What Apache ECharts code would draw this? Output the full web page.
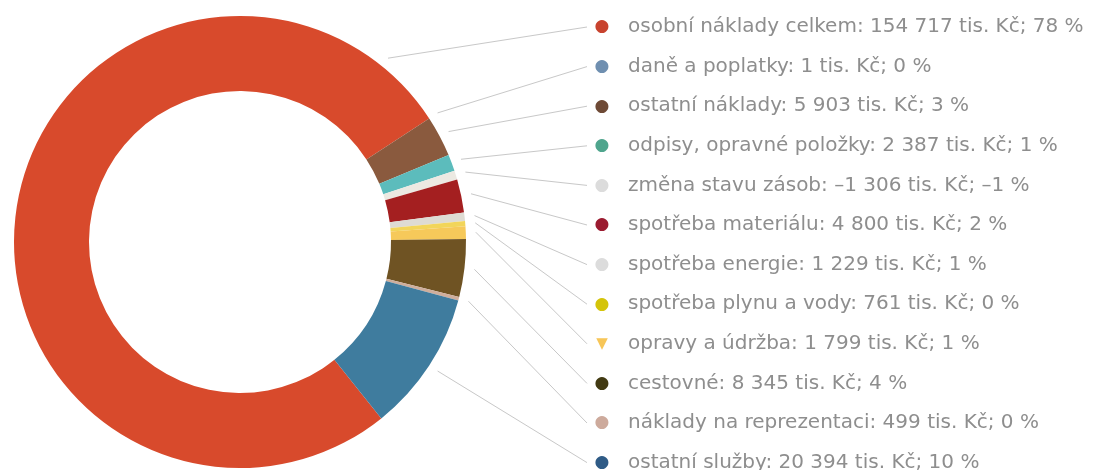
<!DOCTYPE html>
<html><head><meta charset="utf-8">
<script src="https://cdn.jsdelivr.net/npm/echarts@6/dist/echarts.min.js"></script>
<style>html,body{margin:0;padding:0;background:#fff}#c{width:1101px;height:470px}</style>
</head><body><div id="c"></div>
<script>
const categories = [
  'osobní náklady celkem', 'daně a poplatky', 'ostatní náklady', 'odpisy, opravné položky',
  'změna stavu zásob', 'spotřeba materiálu', 'spotřeba energie', 'spotřeba plynu a vody',
  'opravy a údržba', 'cestovné', 'náklady na reprezentaci', 'ostatní služby'
];
const values = [154717, 1, 5903, 2387, -1306, 4800, 1229, 761, 1799, 8345, 499, 20394];
const percents = [78, 0, 3, 1, -1, 2, 1, 0, 1, 4, 0, 10];
const sliceColors = ['#d84a2c', '#7fa3bb', '#8a5a3e', '#5cbcbc', '#ece9e2', '#a41f20',
  '#dedbd3', '#f2d55a', '#f6c95a', '#6f5323', '#cfae9c', '#3f7c9e'];
const markerColors = ['#c8432e', '#6f8fb0', '#6e4a36', '#4fa58d', '#dcdcdc', '#9b1b30',
  '#dcdcdc', '#d4c40a', '#f7c658', '#423a12', '#cdaa9c', '#2f5b86'];
const markerSymbols = ['●', '●', '●', '●', '●', '●', '●', '●', '▼', '●', '●', '●'];

// layout constants
const CX = 240, CY = 242, R_IN = 151, R_OUT = 226;
const START_ANGLE = 308.7;
const ROW0 = 27, ROWH = 39.6, LABEL_X = 592, LINE_END_X = 587;
const FONT = "'DejaVu Sans', sans-serif";

const absVals = values.map(Math.abs);
const total = absVals.reduce((a, b) => a + b, 0);
const startCW = ((90 - START_ANGLE) % 360 + 360) % 360;
let acc = 0;
const anchors = absVals.map(v => {
  const a0 = startCW + acc / total * 360;
  acc += v;
  const a1 = startCW + acc / total * 360;
  const mid = (a0 + a1) / 2;
  const m = ((mid % 360) + 360) % 360;
  const a = (m > 180) ? a1 - 18 : mid;
  const rad = a * Math.PI / 180;
  const r = R_OUT + 10;
  return [CX + r * Math.sin(rad), CY - r * Math.cos(rad)];
});

function fmt(v) {
  const s = String(Math.abs(v)).replace(/\B(?=(\d{3})+(?!\d))/g, ' ');
  return (v < 0 ? '–' : '') + s;
}

const rich = { t: { fontFamily: FONT, fontSize: 20, color: '#8e8e8e', padding: [0, 0, 0, 16] } };
markerColors.forEach((c, i) => {
  rich['m' + i] = { width: 20, align: 'center', fontSize: markerSymbols[i] === '▼' ? 15 : 17, color: c, fontFamily: FONT };
});

const data = categories.map((n, i) => ({ name: n, value: absVals[i], itemStyle: { color: sliceColors[i] } }));

const chart = echarts.init(document.getElementById('c'), null, { renderer: 'canvas' });
chart.setOption({
  animation: false,
  backgroundColor: '#fff',
  series: [{
    type: 'pie',
    center: [CX, CY],
    radius: [R_IN, R_OUT],
    startAngle: START_ANGLE,
    clockwise: true,
    avoidLabelOverlap: false,
    minAngle: 0,
    itemStyle: { borderWidth: 0 },
    emphasis: { disabled: true },
    label: {
      show: true,
      position: 'outside',
      fontFamily: FONT,
      fontSize: 20,
      formatter: p => {
        const i = p.dataIndex;
        return '{m' + i + '|' + markerSymbols[i] + '}{t|' + categories[i] + ': ' + fmt(values[i]) + ' tis. Kč; ' + fmt(percents[i]) + ' %}';
      },
      rich: rich
    },
    labelLine: { show: true, lineStyle: { color: '#c8c8c8', width: 1 } },
    labelLayout: p => {
      const i = p.dataIndex;
      const y = ROW0 + i * ROWH;
      return { x: LABEL_X, y: y, align: 'left', verticalAlign: 'middle', labelLinePoints: [anchors[i], [LINE_END_X, y]] };
    },
    data: data
  }]
});
</script></body></html>
